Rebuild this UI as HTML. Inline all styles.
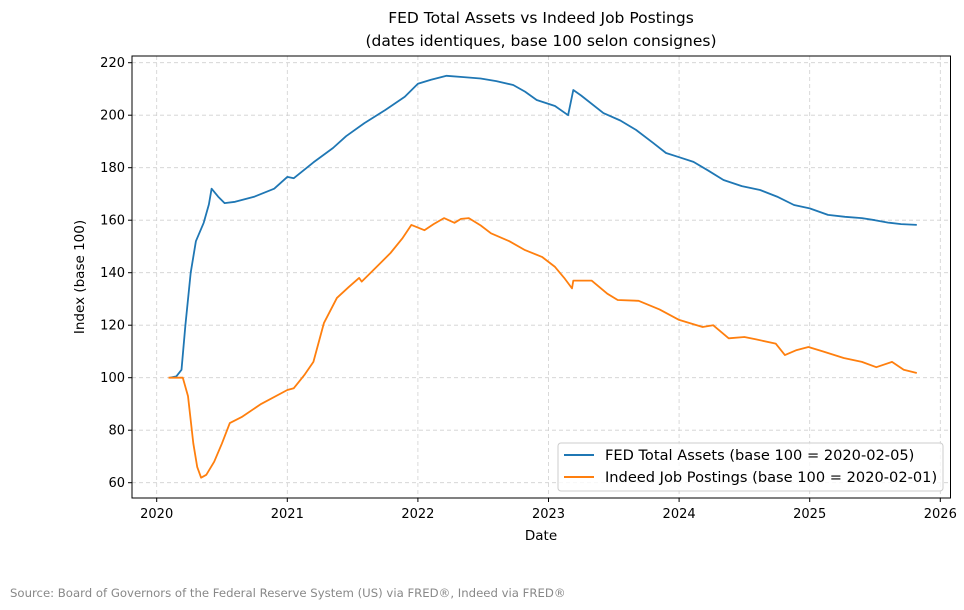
<!DOCTYPE html>
<html><head><meta charset="utf-8"><style>
html,body{margin:0;padding:0;background:#fff;}
svg{display:block;font-family:"DejaVu Sans","Liberation Sans",sans-serif;}
</style></head><body>
<svg id="chart" width="964" height="610" viewBox="0 0 964 610" xmlns="http://www.w3.org/2000/svg">
<text x="541" y="23" text-anchor="middle" font-size="15.5">FED Total Assets vs Indeed Job Postings</text>
<text x="541" y="46" text-anchor="middle" font-size="15.5">(dates identiques, base 100 selon consignes)</text>
<g id="grid"></g>
<g id="yticks"></g>
<g id="xticks"></g>
<g id="series"></g>
<rect x="132" y="56" width="818.5" height="442" fill="none" stroke="#000" stroke-width="1"/>
<text x="541" y="540" text-anchor="middle" font-size="13.5">Date</text>
<text transform="translate(84,277) rotate(-90)" text-anchor="middle" font-size="13.5">Index (base 100)</text>
<g>
<rect x="558" y="443" width="385" height="48" rx="3" fill="#fff" fill-opacity="0.8" stroke="#ccc"/>
<line x1="564" y1="455" x2="594" y2="455" stroke="#1f77b4" stroke-width="2"/>
<text x="605" y="460" font-size="14.6">FED Total Assets (base 100 = 2020-02-05)</text>
<line x1="564" y1="477" x2="594" y2="477" stroke="#ff7f0e" stroke-width="2"/>
<text x="605" y="482" font-size="14.6">Indeed Job Postings (base 100 = 2020-02-01)</text>
</g>
<text x="10" y="597" font-size="11.7" fill="#888">Source: Board of Governors of the Federal Reserve System (US) via FRED®, Indeed via FRED®</text>
</svg>
<script>
const yTicks=[60,80,100,120,140,160,180,200,220];
const xTicks=[2020,2021,2022,2023,2024,2025,2026];
const fedDates=[2020.10,2020.15,2020.19,2020.22,2020.26,2020.30,2020.36,2020.40,2020.42,2020.47,2020.52,2020.60,2020.75,2020.90,2021.0,2021.05,2021.2,2021.35,2021.45,2021.59,2021.75,2021.9,2022.0,2022.1,2022.22,2022.35,2022.48,2022.6,2022.73,2022.82,2022.91,2023.05,2023.15,2023.19,2023.25,2023.42,2023.55,2023.67,2023.8,2023.9,2024.0,2024.11,2024.22,2024.34,2024.48,2024.62,2024.75,2024.88,2025.0,2025.14,2025.27,2025.4,2025.5,2025.6,2025.7,2025.82];
const fedValues=[100,100.5,103,120,140,152,159,166,172,169,166.5,167,169,172,176.5,176,182,187.5,192,197,202,207,212,213.5,215,214.5,214,213,211.5,209,205.8,203.5,200,209.6,207.5,200.8,198,194.4,189.5,185.6,184,182.2,179,175.3,173,171.5,169,165.8,164.5,162,161.3,160.8,160,159.1,158.5,158.2];
const indDates=[2020.09,2020.2,2020.24,2020.28,2020.31,2020.34,2020.38,2020.44,2020.5,2020.56,2020.65,2020.8,2021.0,2021.05,2021.13,2021.2,2021.28,2021.38,2021.47,2021.55,2021.57,2021.68,2021.79,2021.88,2021.95,2022.05,2022.12,2022.2,2022.28,2022.33,2022.39,2022.48,2022.56,2022.7,2022.82,2022.95,2023.05,2023.12,2023.18,2023.19,2023.33,2023.45,2023.53,2023.69,2023.85,2024.0,2024.18,2024.26,2024.38,2024.5,2024.59,2024.74,2024.81,2024.9,2024.99,2025.1,2025.26,2025.4,2025.51,2025.63,2025.72,2025.82];
const indValues=[100,100,93,75,66,61.9,63,68,75,82.7,85,90,95.3,96,101,106,120.8,130.4,134.5,138,136.6,142,147.5,153,158.2,156.2,158.5,160.8,159,160.5,160.8,158,155,152,148.6,146,142.2,138,134,137,137,132,129.6,129.3,126,122,119.3,120,115,115.5,114.6,113,108.6,110.5,111.7,110,107.5,106,104,106,103,101.8];
const NS='http://www.w3.org/2000/svg';
const L=132,R=950.5,T=56,B=498;
function xs(v){return 156.7+(v-2020)*130.6;}
function ys(v){return 62.7+(220-v)*2.625;}
function mk(tag,attrs,parent){const e=document.createElementNS(NS,tag);for(const k in attrs)e.setAttribute(k,attrs[k]);parent.appendChild(e);return e;}
const grid=document.getElementById('grid'),yg=document.getElementById('yticks'),xg=document.getElementById('xticks'),sg=document.getElementById('series');
yTicks.forEach(v=>{const y=ys(v);
 const g=mk('line',{x1:L,x2:R,y1:y,y2:y,stroke:'#d0d0d0','stroke-dasharray':'4,3','stroke-width':0.8},grid);
 
 
 mk('line',{x1:L-4,x2:L,y1:y,y2:y,stroke:'#000'},yg);
 const t=mk('text',{x:L-7,y:y+4.5,'text-anchor':'end','font-size':13},yg);t.textContent=v;
 
 
});
xTicks.forEach(v=>{const x=xs(v);
 const g=mk('line',{x1:x,x2:x,y1:T,y2:B,stroke:'#d0d0d0','stroke-dasharray':'4,3','stroke-width':0.8},grid);
 
 
 mk('line',{x1:x,x2:x,y1:B,y2:B+4,stroke:'#000'},xg);
 const t=mk('text',{x:x,y:B+20,'text-anchor':'middle','font-size':13},xg);t.textContent=v;
 
 
});
function line(d,v,c,name){const p=d.map((x,i)=>(i?'L':'M')+xs(x).toFixed(1)+','+ys(v[i]).toFixed(1)).join('');
 const e=mk('path',{d:p,fill:'none',stroke:c,'stroke-width':1.8,'stroke-linejoin':'round'},sg);
 
 
}
line(fedDates,fedValues,'#1f77b4','fed-total-assets-line');
line(indDates,indValues,'#ff7f0e','indeed-job-postings-line');
</script>
</body></html>
